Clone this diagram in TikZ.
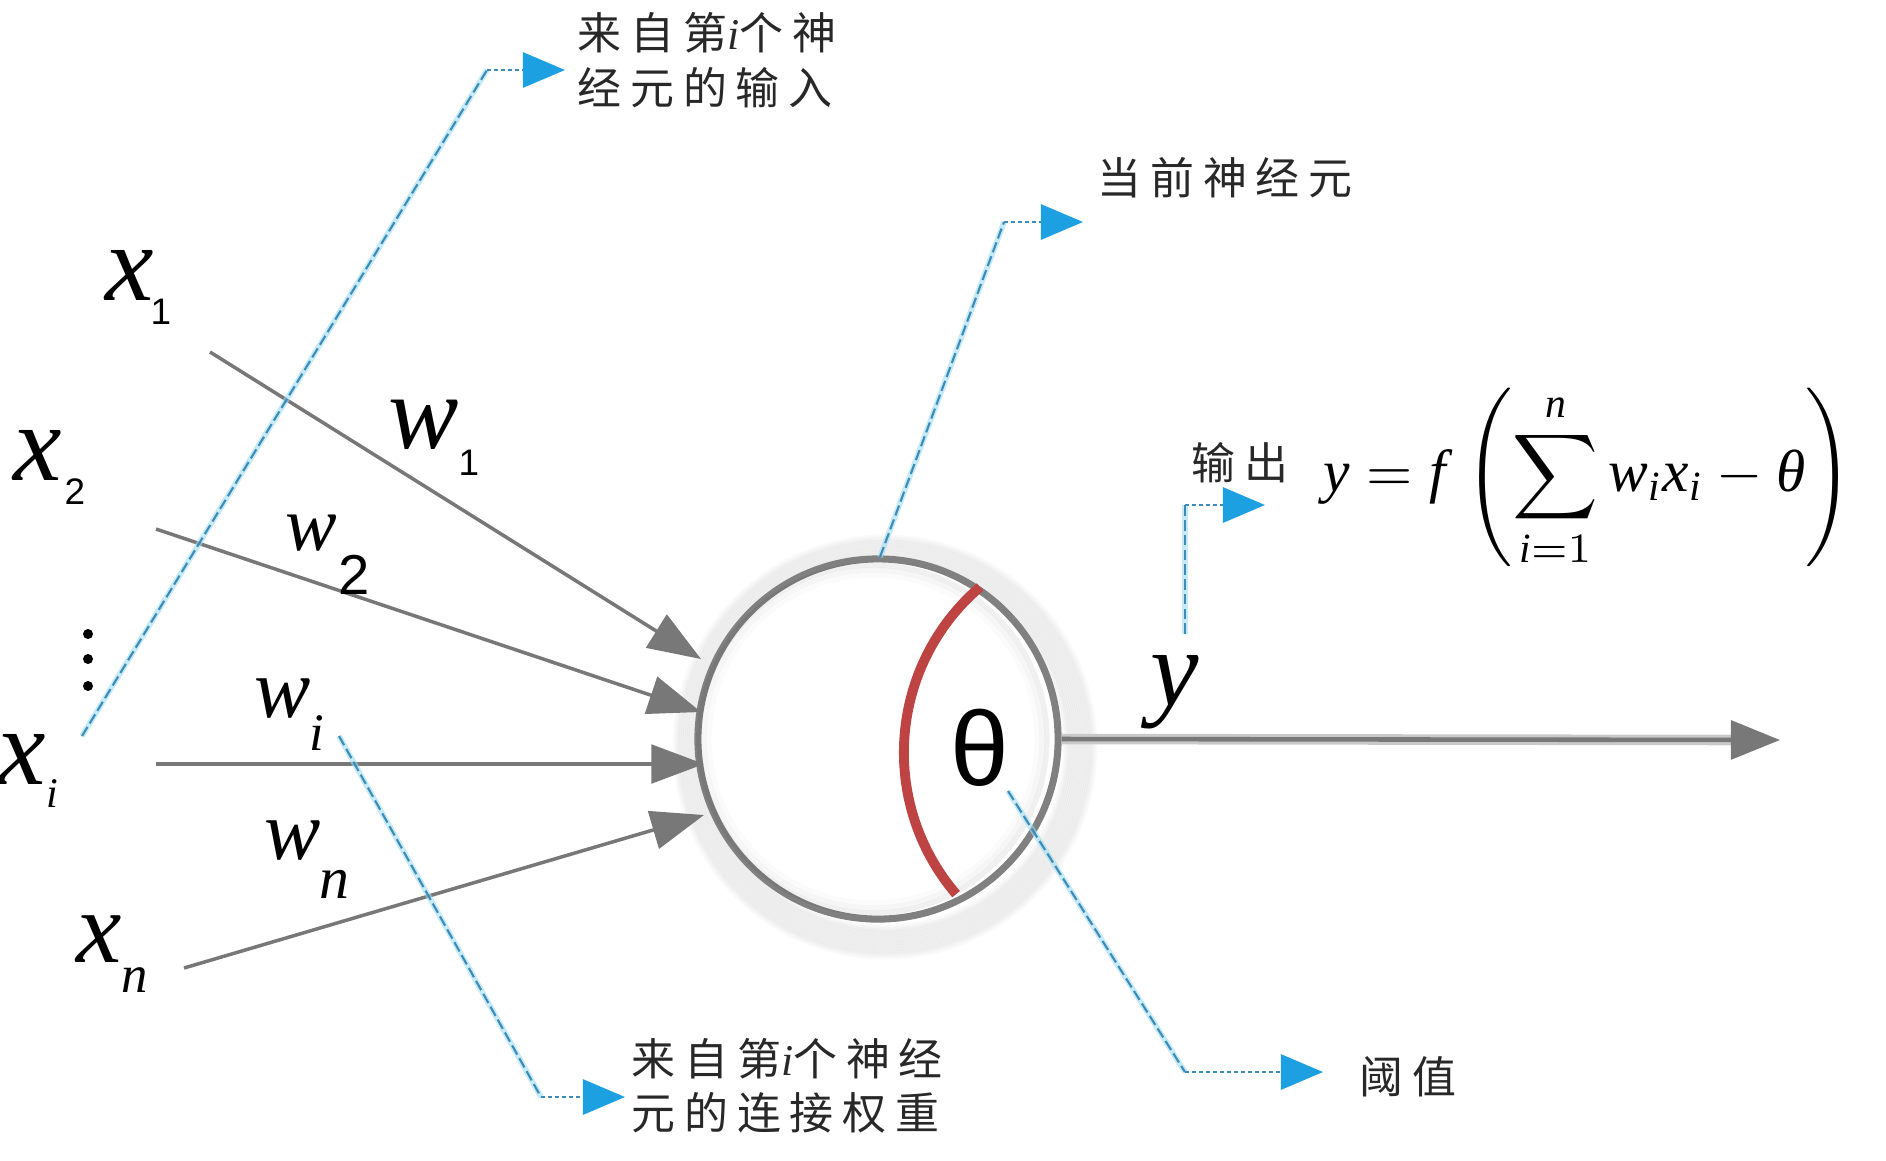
\documentclass[tikz,border=0pt]{standalone}
\usepackage{amsmath}
\usepackage{fontspec}
\setmainfont{Liberation Serif}
\setsansfont{Liberation Sans}
\newfontfamily\timesf{Liberation Serif}
\newfontfamily\cjkfont[LetterSpace=20]{Noto Sans CJK SC}
\usepackage{graphicx}
\usetikzlibrary{arrows.meta}
\newcommand\tv[1]{\text{\timesf\itshape #1}}
\definecolor{lgray}{RGB}{120,120,120}
\definecolor{cgray}{RGB}{128,128,128}
\definecolor{thred}{RGB}{190,68,68}
\definecolor{tipblue}{RGB}{28,160,225}
\definecolor{dashblue}{RGB}{60,140,185}
\definecolor{lcyan}{RGB}{160,220,240}
\definecolor{txt}{RGB}{40,40,40}
\tikzset{
  inarrow/.style={draw=lgray, line width=1pt, -{Triangle[length=15pt,width=11pt]}},
  outarrow/.style={draw=lgray, line width=1.3pt, -{Triangle[length=14pt,width=11pt]}},
  callout/.style={draw=dashblue, line width=0.6pt, dash pattern=on 3pt off 1.2pt,
     preaction={draw=lcyan, line width=1.6pt, solid, opacity=0.6}},
  calltip/.style={draw=dashblue, line width=0.8pt, dash pattern=on 1pt off 1pt,
     -{Triangle[length=12pt,width=10pt,color=tipblue,fill=tipblue]}},
  var/.style={inner sep=0pt, font=\fontsize{#1}{#1}\selectfont\timesf\itshape},
  subsf/.style={inner sep=0pt, font=\fontsize{#1}{#1}\selectfont\sffamily},
  cjklab/.style={inner sep=0pt, anchor=west, align=left, text=txt, font=\fontsize{12.5}{15.5}\selectfont\cjkfont},
}
\begin{document}
\begin{tikzpicture}[x=0.01cm,y=-0.01cm]
\useasboundingbox (0,0) rectangle (1886,1160);
% neuron shadow
\foreach \r in {181,183,...,209}
  \draw[black, opacity=0.02, line width=2pt] (885,747) circle[radius=\r];
\node[circle, draw=cgray, fill=white, line width=2pt, minimum size=3.6cm, inner sep=0pt] (neuron) at (878,739) {};
\foreach \r/\o in {174/0.06,169/0.035,164/0.015}
  \draw[black, opacity=\o, line width=1.5pt] (873,739) circle[radius=\r];
% threshold arc
\draw[thred, line width=2.8pt] (980,587) arc[start angle=229.4, end angle=139.5, radius=218];
\node[inner sep=0pt, font=\fontsize{30}{30}\selectfont\sffamily] (theta) at (980,748) {θ};
% inputs
\coordinate (s1) at (210,352); \coordinate (t1) at (701,659);
\coordinate (s2) at (156,529); \coordinate (t2) at (701,712);
\coordinate (si) at (156,764); \coordinate (ti) at (704,764);
\coordinate (sn) at (184,968); \coordinate (tn) at (704,815);
\draw[inarrow] (s1) -- (t1);
\draw[inarrow] (s2) -- (t2);
\draw[inarrow] (si) -- (ti);
\draw[inarrow] (sn) -- (tn);
% output
\coordinate (oe) at (1780,740);
\draw[lgray!40, line width=3pt] (neuron.east) -- (1740,740);
\draw[outarrow] (neuron.east) -- (oe);
% input labels
\node[var=31] (x1) at (130,275) {x};
\node[subsf=10.5] (x1s) at (161,312) {1};
\node[var=31] (x2) at (38,455) {x};
\node[subsf=10.5] (x2s) at (75,492) {2};
\node[var=31] (xi) at (22,759) {x};
\node[var=12] (xis) at (52,794) {i};
\node[var=29] (xn) at (99,939) {x};
\node[var=15] (xns) at (135,980) {n};
\foreach \yy in {634,659,686} \fill (88,\yy) circle[radius=5];
% weight labels
\node[var=30] (w1) at (424,425) {w};
\node[subsf=10.5] (w1s) at (469,463) {1};
\node[var=22] (w2) at (311,533) {w};
\node[subsf=16] (w2s) at (354,575) {2};
\node[var=24] (wi) at (283,699) {w};
\node[var=15] (wis) at (317,733) {i};
\node[var=24] (wn) at (293,841) {w};
\node[var=17] (wns) at (334,884) {n};
\node[var=31] (yl) at (1175,692) {y};
% formula
\node[inner sep=0pt] (formula) at (1588,478) {\resizebox{5.29cm}{!}{$\displaystyle \tv{y}=\tv{f}\,\left(\sum_{\tv{i}=1}^{\tv{n}}\tv{w}_{\tv{i}}\tv{x}_{\tv{i}}-\tv{θ}\right)$}};
% callout labels
\node[cjklab] (lin) at (577,60) {来自第{\timesf\itshape i}个神\\经元的输入};
\node[cjklab] (lcur) at (1097,178) {当前神经元};
\node[cjklab] (lout) at (1191,463) {输出};
\node[cjklab] (lthr) at (1359,1077) {阈值};
\node[cjklab] (lw) at (631,1086) {来自第{\timesf\itshape i}个神经\\元的连接权重};
% callouts
\coordinate (c1a) at (82,736);  \coordinate (c1b) at (487,70);  \coordinate (c1t) at (565,70);
\coordinate (c2a) at (880,557); \coordinate (c2b) at (1004,222); \coordinate (c2t) at (1083,222);
\coordinate (c3a) at (1185,634); \coordinate (c3b) at (1185,505); \coordinate (c3t) at (1265,505);
\coordinate (c4a) at (1008,791); \coordinate (c4b) at (1185,1072); \coordinate (c4t) at (1323,1072);
\coordinate (c5a) at (339,736); \coordinate (c5b) at (541,1097); \coordinate (c5t) at (625,1097);
\draw[callout] (c1a) -- (c1b);
\draw[calltip] (c1b) -- (c1t);
\draw[callout] (c2a) -- (c2b);
\draw[calltip] (c2b) -- (c2t);
\draw[callout] (c3a) -- (c3b);
\draw[calltip] (c3b) -- (c3t);
\draw[callout] (c4a) -- (c4b);
\draw[calltip] (c4b) -- (c4t);
\draw[callout] (c5a) -- (c5b);
\draw[calltip] (c5b) -- (c5t);
\end{tikzpicture}
\end{document}
